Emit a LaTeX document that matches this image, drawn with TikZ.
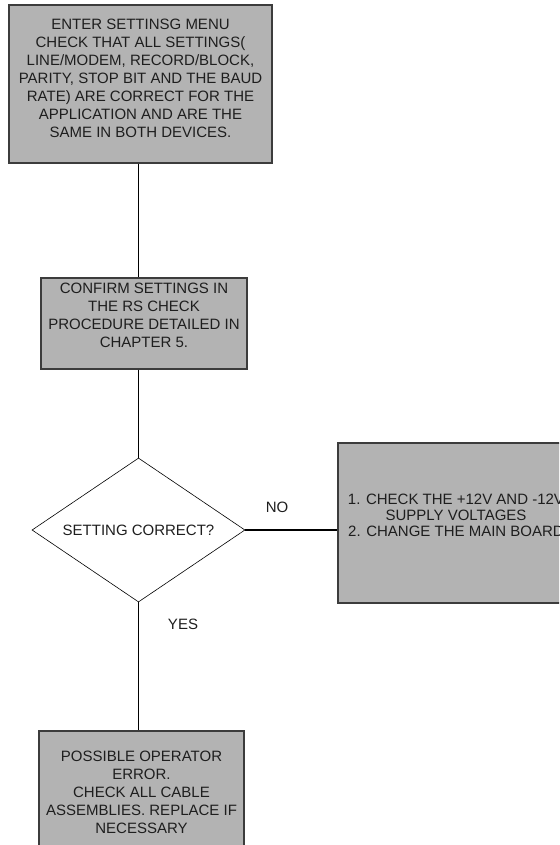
\documentclass[tikz,border=0pt]{standalone}
\usepackage{fontspec}
\setmainfont{Liberation Sans}
\usetikzlibrary{positioning,shapes.geometric}
\definecolor{BoxGray}{RGB}{179,179,179}
\definecolor{EdgeGray}{RGB}{60,60,60}
\definecolor{InkGray}{RGB}{30,30,30}
\tikzset{
  stepbox/.style={rectangle,draw=EdgeGray,fill=BoxGray,line width=1.1pt,inner sep=2pt,
    align=center,text=InkGray,font=\fontsize{15}{18}\selectfont},
  decision/.style={diamond,draw=black,line width=0.6pt,aspect=1.48,minimum width=213pt,
    minimum height=144pt,inner sep=0pt,text=InkGray,font=\fontsize{15}{18}\selectfont},
  thinedge/.style={draw=black,line width=0.8pt},
  thickedge/.style={draw=black,line width=1.7pt},
  answer/.style={inner sep=0pt,text=InkGray,font=\fontsize{15}{18}\selectfont},
}

\begin{document}
\begin{tikzpicture}[x=1pt,y=-1pt]
  \useasboundingbox (0,0) rectangle (559,845);
  \clip (0,0) rectangle (559,845);
  \node[stepbox,minimum width=263pt,minimum height=158pt,text depth=12pt] (settings) at (140.5,84)
    {ENTER SETTINSG MENU\\CHECK THAT ALL SETTINGS(\\LINE/MODEM, RECORD/BLOCK,\\
     PARITY, STOP BIT AND THE BAUD\\RATE) ARE CORRECT FOR THE\\
     APPLICATION AND ARE THE\\SAME IN BOTH DEVICES.};
  \node[stepbox,minimum width=206pt,minimum height=91pt,text depth=16pt] (confirm) at (144,323.5)
    {CONFIRM SETTINGS IN\\THE RS CHECK\\PROCEDURE DETAILED IN\\CHAPTER 5.};
  \node[decision] (correct) at (138.5,530) {SETTING CORRECT?};
  \node[stepbox,minimum width=236pt,minimum height=160pt,text depth=16pt,
    font=\fontsize{15}{16}\selectfont] (voltages) at (456,523)
    {1. CHECK THE +12V AND -12V\\SUPPLY VOLTAGES\\2. CHANGE THE MAIN BOARD};
  \node[stepbox,minimum width=205pt,minimum height=122pt] (operator) at (141.5,792)
    {POSSIBLE OPERATOR\\ERROR.\\CHECK ALL CABLE\\ASSEMBLIES. REPLACE IF\\NECESSARY};
  \node[answer] (no) at (277,507) {NO};
  \node[answer] (yes) at (183,624) {YES};
  % connectors
  \draw[thinedge] (settings.south -| correct.north) -- (confirm.north -| correct.north);
  \draw[thinedge] (confirm.south -| correct.north) -- (correct.north);
  \draw[thickedge] (correct.east) -- (correct.east -| voltages.west);
  \draw[thickedge] (correct.south) -- (operator.north -| correct.south);
\end{tikzpicture}
\end{document}
